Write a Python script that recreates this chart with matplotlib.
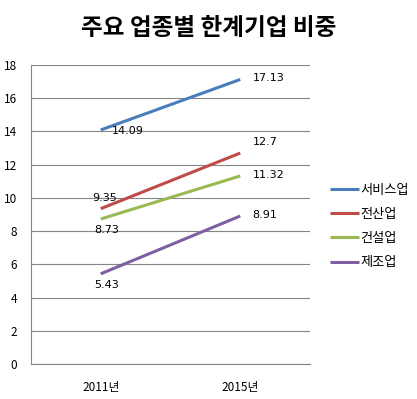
import matplotlib
matplotlib.use("Agg")
import matplotlib.pyplot as plt

plt.rcParams['font.family'] = ['Noto Sans CJK KR', 'DejaVu Sans']

years = ['2011년', '2015년']
series_names = ['서비스업', '전산업', '건설업', '제조업']
service = [14.09, 17.13]
all_ind = [9.35, 12.7]
construction = [8.73, 11.32]
manufacturing = [5.43, 8.91]
colors = ['#4A7EBB', '#BE4B48', '#98B954', '#7D60A0']

# label offsets (points) for start / end values
offsets = [
    [(8, -1, 'left'), (9, 1, 'left')],
    [(3, 8, 'center'), (9, 8, 'left')],
    [(4, -8, 'center'), (9, 1, 'left')],
    [(4, -8, 'center'), (9, 1, 'left')],
]

fig = plt.figure(figsize=(4.17, 3.99), dpi=100)
ax = fig.add_axes([31 / 417, 35 / 399, 279 / 417, 299 / 399])

x = [0, 1]
data = [service, all_ind, construction, manufacturing]
for vals, name, c, offs in zip(data, series_names, colors, offsets):
    ax.plot(x, vals, color=c, lw=2.2, label=name, solid_capstyle='butt')
    for xi, v, (dx, dy, ha) in zip(x, vals, offs):
        ax.annotate(f'{v:g}', (xi, v), xytext=(dx, dy), textcoords='offset points',
                    ha=ha, va='center', fontsize=8, family=['DejaVu Sans'])

ax.set_xlim(-0.5, 1.5)
ax.set_ylim(0, 18)
ax.set_yticks(range(0, 19, 2))
ax.set_xticks(x)
ax.set_xticklabels(years, fontsize=8.5)
ax.tick_params(axis='y', labelsize=8.5, length=0, pad=10)
ax.tick_params(axis='x', length=0, pad=12)
ax.grid(axis='y', color='#868686', lw=0.8)
ax.set_axisbelow(True)
for s in ['top', 'right']:
    ax.spines[s].set_visible(False)
ax.spines['left'].set_color('#868686')
ax.spines['bottom'].set_color('#868686')

fig.suptitle('주요 업종별 한계기업 비중', x=0.5, y=0.96, fontsize=17, fontweight='bold')

ax.legend(loc='center left', bbox_to_anchor=(1.03, 0.46), frameon=False,
          fontsize=9.5, handlelength=2.2, handletextpad=0.1, labelspacing=0.85)

fig.savefig('out.png', dpi=100)
